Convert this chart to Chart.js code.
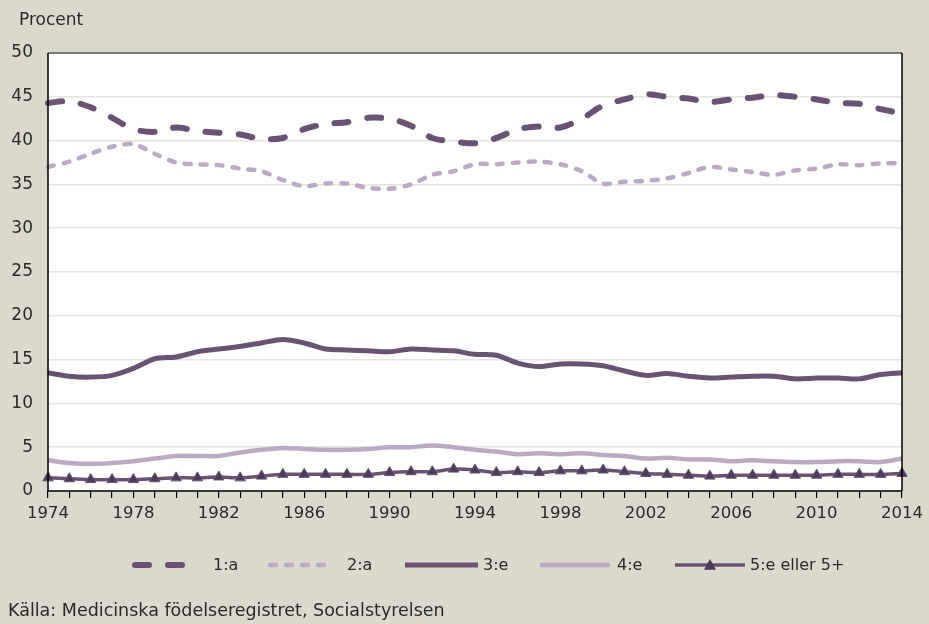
<!DOCTYPE html>
<html><head><meta charset="utf-8">
<script src="https://cdn.jsdelivr.net/npm/chart.js@4"></script>
<style>html,body{margin:0;padding:0;background:#dbd8cc;}canvas{display:block;}</style>
</head><body>
<canvas id="c" width="929" height="624"></canvas>
<script>
const years = [];
for (let y = 1974; y <= 2014; y++) years.push(String(y));
const first = [44.3,44.5,43.8,42.6,41.3,41.0,41.5,41.1,40.9,40.7,40.2,40.3,41.3,41.9,42.1,42.6,42.5,41.7,40.3,39.9,39.7,40.3,41.3,41.6,41.5,42.5,44.0,44.7,45.3,45.0,44.8,44.4,44.7,44.9,45.2,45.0,44.7,44.3,44.2,43.6,43.1];
const second = [37.0,37.6,38.5,39.3,39.6,38.5,37.5,37.3,37.2,36.8,36.5,35.5,34.8,35.1,35.1,34.6,34.5,35.0,36.1,36.5,37.3,37.3,37.5,37.6,37.3,36.5,35.1,35.3,35.4,35.7,36.3,37.0,36.7,36.4,36.1,36.6,36.8,37.3,37.2,37.4,37.4];
const third = [13.5,13.1,13.0,13.2,14.0,15.1,15.3,15.9,16.2,16.5,16.9,17.3,16.9,16.2,16.1,16.0,15.9,16.2,16.1,16.0,15.6,15.5,14.6,14.2,14.5,14.5,14.3,13.7,13.2,13.4,13.1,12.9,13.0,13.1,13.1,12.8,12.9,12.9,12.8,13.3,13.5];
const fourth = [3.5,3.2,3.1,3.2,3.4,3.7,4.0,4.0,4.0,4.4,4.7,4.9,4.8,4.7,4.7,4.8,5.0,5.0,5.2,5.0,4.7,4.5,4.2,4.3,4.2,4.3,4.1,4.0,3.7,3.8,3.6,3.6,3.4,3.5,3.4,3.3,3.3,3.4,3.4,3.3,3.7];
const fifth = [1.5,1.4,1.3,1.3,1.3,1.4,1.5,1.5,1.6,1.5,1.7,1.9,1.9,1.9,1.9,1.9,2.1,2.2,2.2,2.5,2.4,2.1,2.2,2.1,2.3,2.3,2.4,2.2,2.0,1.9,1.8,1.7,1.8,1.8,1.8,1.8,1.8,1.9,1.9,1.9,2.0];
const seriesNames = ['1:a','2:a','3:e','4:e','5:e eller 5+'];
const yTicks = [0,5,10,15,20,25,30,35,40,45,50];
const sourceText = 'Källa: Medicinska födelseregistret, Socialstyrelsen';
const yTitle = 'Procent';

const DARK = '#6a5274';
const LIGHT = '#bcaac4';
const FONT = '"DejaVu Sans", sans-serif';
const TEXT = '#2a2a2a';

const bgPlugin = {
  id: 'bg',
  beforeDraw(chart) {
    const {ctx, chartArea: a} = chart;
    ctx.save();
    ctx.fillStyle = '#dbd8cc';
    ctx.fillRect(0, 0, chart.width, chart.height);
    ctx.fillStyle = '#ffffff';
    ctx.fillRect(a.left, a.top, a.right - a.left, a.bottom - a.top);
    ctx.restore();
  },
  afterDraw(chart) {
    const {ctx, chartArea: a} = chart;
    ctx.save();
    ctx.lineWidth = 1.5;
    ctx.strokeStyle = '#555';
    ctx.beginPath(); ctx.moveTo(a.left, a.top); ctx.lineTo(a.right, a.top); ctx.stroke();
    ctx.strokeStyle = '#000';
    ctx.beginPath(); ctx.moveTo(a.right, a.top); ctx.lineTo(a.right, a.bottom); ctx.stroke();
    ctx.beginPath(); ctx.moveTo(a.left, a.top); ctx.lineTo(a.left, a.bottom); ctx.lineTo(a.right, a.bottom); ctx.stroke();
    ctx.fillStyle = TEXT;
    ctx.font = '17px ' + FONT;
    ctx.textBaseline = 'middle';
    ctx.textAlign = 'left';
    ctx.fillText(yTitle, 19, 21);
    const items = [[135,200,213],[270,333,347],[405,478,483],[540,610,617],[675,745,750]];
    chart.data.datasets.forEach((ds, i) => {
      const [x0, x1, tx] = items[i];
      const y = 565;
      ctx.save();
      ctx.strokeStyle = ds.borderColor;
      ctx.lineWidth = ds.borderWidth;
      ctx.lineCap = ds.borderCapStyle || 'butt';
      ctx.setLineDash(ds.borderDash || []);
      ctx.beginPath(); ctx.moveTo(x0, y); ctx.lineTo(x1, y); ctx.stroke();
      ctx.restore();
      if (ds.pointRadius > 0) {
        const cx = (x0 + x1) / 2, r = 6;
        ctx.fillStyle = ds.pointBackgroundColor;
        ctx.beginPath();
        ctx.moveTo(cx, y - r); ctx.lineTo(cx + r, y + r * 0.8); ctx.lineTo(cx - r, y + r * 0.8);
        ctx.closePath(); ctx.fill();
      }
      ctx.fillStyle = TEXT;
      ctx.font = '16px ' + FONT;
      ctx.fillText(ds.label, tx, y + 1);
    });
    ctx.font = '17.5px ' + FONT;
    ctx.fillText(sourceText, 8, 611);
    ctx.restore();
  }
};

new Chart(document.getElementById('c'), {
  type: 'line',
  data: {
    labels: years,
    datasets: [
      {label: seriesNames[0], data: first, borderColor: DARK, borderWidth: 6, borderDash: [14, 19], borderCapStyle: 'round', pointRadius: 0, tension: 0.3},
      {label: seriesNames[1], data: second, borderColor: LIGHT, borderWidth: 4.5, borderDash: [6, 10], borderCapStyle: 'round', pointRadius: 0, tension: 0.3},
      {label: seriesNames[2], data: third, borderColor: DARK, borderWidth: 5, pointRadius: 0, tension: 0.3},
      {label: seriesNames[3], data: fourth, borderColor: LIGHT, borderWidth: 4.5, pointRadius: 0, tension: 0.3},
      {label: seriesNames[4], data: fifth, borderColor: DARK, borderWidth: 3.5, pointStyle: 'triangle', pointRadius: 6, pointBackgroundColor: '#4e3a5a', pointBorderColor: DARK, pointBorderWidth: 1, tension: 0.3}
    ]
  },
  options: {
    responsive: false,
    animation: false,
    layout: {padding: {left: 0, top: 53, right: 23, bottom: 0}},
    plugins: {legend: {display: false}, tooltip: {enabled: false}},
    scales: {
      x: {
        offset: false,
        grid: {display: true, drawOnChartArea: false, drawTicks: true, tickLength: 7, color: '#000', lineWidth: 1.2},
        border: {display: false},
        ticks: {
          autoSkip: false, maxRotation: 0, padding: 6, color: TEXT, font: {size: 16.5, family: FONT},
          callback: function(v, i) { return (i % 4 === 0) ? years[i] : ''; }
        },
        afterFit(s) { s.height = 133; }
      },
      y: {
        min: 0, max: 50,
        afterBuildTicks(s) { s.ticks = yTicks.map(v => ({value: v})); },
        grid: {color: '#e6e4dd', lineWidth: 1.5, drawTicks: false},
        border: {display: false},
        ticks: {padding: 15, color: TEXT, font: {size: 17, family: FONT}},
        afterFit(s) { s.width = 48; }
      }
    }
  },
  plugins: [bgPlugin]
});
</script>
</body></html>
